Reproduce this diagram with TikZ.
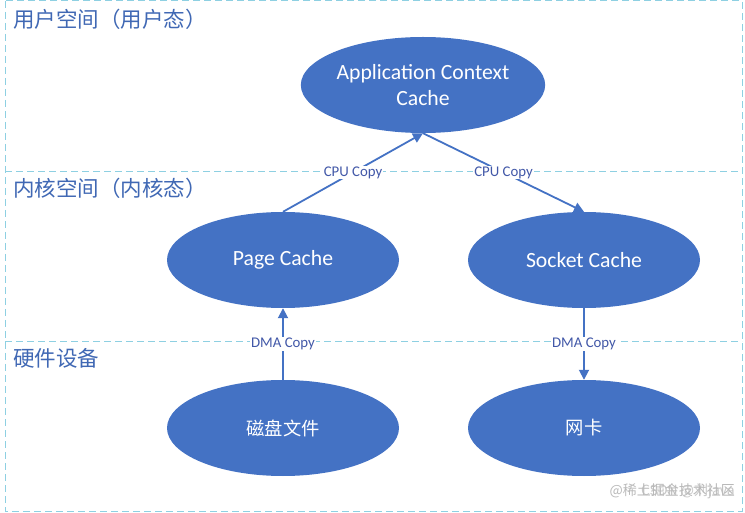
\documentclass[tikz,border=0pt]{standalone}
\usepackage{fontspec}
\setmainfont{Carlito}
\newfontfamily\cjk{Noto Sans CJK SC}
\usetikzlibrary{shapes.geometric,arrows.meta}
\definecolor{ell}{HTML}{4472C4}
\definecolor{sec}{HTML}{4068B4}
\definecolor{lab}{HTML}{4258A8}
\definecolor{dash}{HTML}{8ED0E2}
\tikzset{
  ellnode/.style={ellipse, fill=ell, draw=none, minimum width=232pt, minimum height=96pt, inner sep=0pt, text=white, align=center, font=\fontsize{21.7}{26}\selectfont},
  divider/.style={draw=dash, line width=1pt, dash pattern=on 7pt off 4pt},
  seclabel/.style={anchor=west, text=sec, inner sep=0pt, font=\cjk\fontsize{21.5}{24}\selectfont},
  conn/.style={draw=ell, line width=1.8pt, -{Triangle[length=10pt,width=10pt]}},
  copylabel/.style={fill=white, text=lab, inner sep=1pt, font=\fontsize{14.8}{16}\selectfont},
  wm/.style={text=gray!55, inner sep=0pt, anchor=east, font=\cjk\fontsize{14}{16}\selectfont}
}
\begin{document}
\begin{tikzpicture}[x=1pt,y=-1pt]
\useasboundingbox (0,0) rectangle (745,513);
\draw[divider] (5,1) rectangle (742,511);
\draw[divider] (5,172) -- (742,172);
\draw[divider] (5,342) -- (742,342);

\node[seclabel] (s1) at (13,19) {用户空间（用户态）};
\node[seclabel] (s2) at (13,188) {内核空间（内核态）};
\node[seclabel] (s3) at (13,358) {硬件设备};

\node[ellnode] (app) at (423,85) {Application Context\\Cache};
\node[ellnode] (page) at (283,260) {Page Cache};
\node[ellnode] (sock) at (584,260) {Socket Cache};
\node[ellnode, font=\cjk\fontsize{18.3}{22}\selectfont] (disk) at (283,428) {磁盘文件};
\node[ellnode, font=\cjk\fontsize{18.3}{22}\selectfont] (nic) at (584,428) {网卡};

\draw[conn] (page.north) -- node[copylabel] {CPU Copy} (app.south);
\draw[conn] (app.south) -- node[copylabel] {CPU Copy} (sock.north);
\draw[conn] (disk.north) -- node[copylabel] {DMA Copy} (page.south);
\draw[conn] (sock.south) -- node[copylabel] {DMA Copy} (nic.north);

\node[wm] (w1) at (735,491) {@稀土掘金技术社区};
\node[wm, opacity=0.8] (w2) at (735,491) {CSDN @刘java};
\end{tikzpicture}
\end{document}
